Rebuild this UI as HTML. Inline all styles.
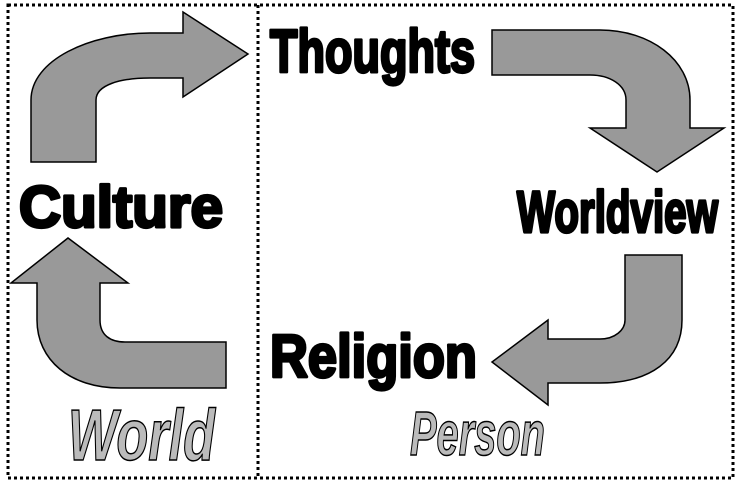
<!DOCTYPE html>
<html><head><style>html,body{margin:0;padding:0;background:#fff}svg{display:block}</style></head>
<body>
<svg width="739" height="483" viewBox="0 0 739 483" xmlns="http://www.w3.org/2000/svg">
<rect x="0" y="0" width="739" height="483" fill="#fff"/>
<g fill="none" stroke="#000" stroke-width="3" stroke-dasharray="3,3">
<rect x="8" y="5" width="725" height="473"/>
<line x1="258" y1="5" x2="258" y2="478"/>
</g>
<g fill="#999" stroke="#000" stroke-width="1.5" stroke-linejoin="miter">
<path d="M31,162 L31,100 C31,60 90,33 150,33 L183,33 L183,12 L248,54 L183,97 L183,78 L150,78 C120,78 96,85 96,100 L96,162 Z"/>
<path d="M492,30 L600,30 C650,30 690,60 690,100 L690,128 L724,128 L657,172 L590,128 L626,128 L626,100 C626,85 610,75 590,75 L492,75 Z"/>
<path d="M625,255 L682,255 L682,320 C682,360 650,383 600,383 L548,383 L548,405 L492,362 L548,320 L548,339 L600,339 C615,339 625,330 625,320 Z"/>
<path d="M226,388 L120,388 C70,388 37,360 37,320 L37,283 L11,283 L68,238 L128,283 L100,283 L100,320 C100,335 110,342 125,342 L226,342 Z"/>
</g>
<g font-family="Liberation Sans, sans-serif" font-weight="bold" fill="#000" stroke="#000" stroke-width="3.2" stroke-linejoin="round">
<text x="270" y="72" font-size="60" textLength="205" lengthAdjust="spacingAndGlyphs">Thoughts</text>
<text x="19" y="227" font-size="58" textLength="204" lengthAdjust="spacingAndGlyphs">Culture</text>
<text x="517" y="232" font-size="58" textLength="201" lengthAdjust="spacingAndGlyphs">Worldview</text>
<text x="270" y="377" font-size="60" textLength="207" lengthAdjust="spacingAndGlyphs">Religion</text>
</g>
<g font-family="Liberation Sans, sans-serif" font-weight="bold" font-style="italic" fill="#bbb" stroke="#000" stroke-width="1.5">
<text x="68" y="460" font-size="72" textLength="147" lengthAdjust="spacingAndGlyphs">World</text>
<text x="410" y="455" font-size="62" textLength="135" lengthAdjust="spacingAndGlyphs">Person</text>
</g>
</svg>
</body></html>
